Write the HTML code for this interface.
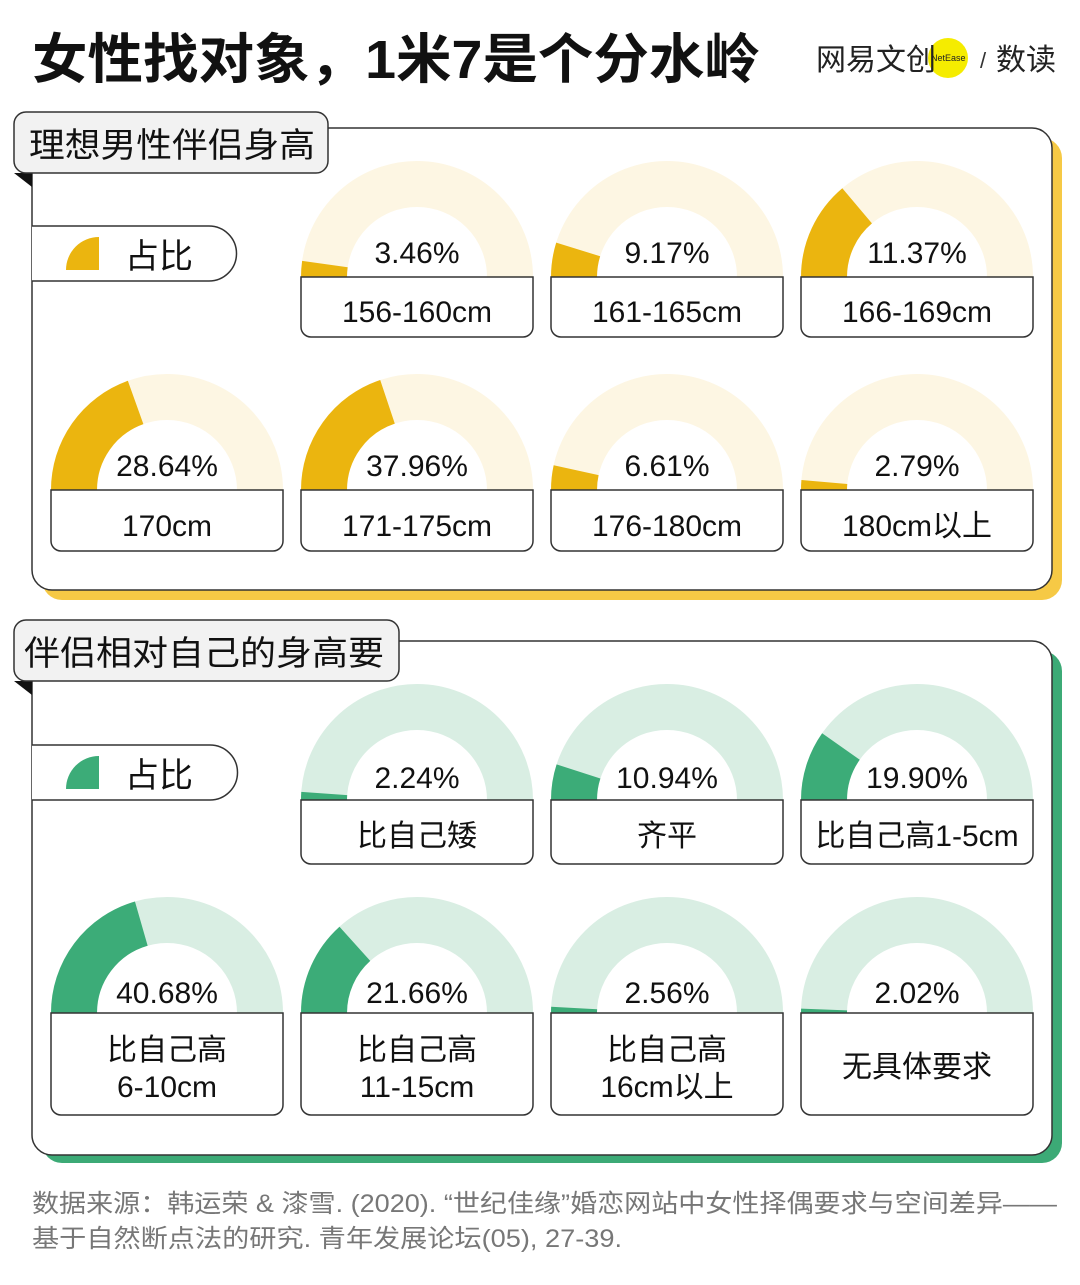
<!DOCTYPE html>
<html><head><meta charset="utf-8"><style>
body{margin:0;background:#fff;}
svg text{font-family:"Liberation Sans","Noto Sans CJK SC",sans-serif;}
</style></head><body>
<svg width="1080" height="1280" viewBox="0 0 1080 1280" xmlns="http://www.w3.org/2000/svg">
<rect width="1080" height="1280" fill="#fff"/>
<text x="32" y="78" font-size="54" font-weight="bold" fill="#111" textLength="728" lengthAdjust="spacingAndGlyphs">女性找对象，1米7是个分水岭</text>
<!-- logo -->
<circle cx="948" cy="58" r="20" fill="#f5ec00"/>
<text x="816" y="70" font-size="30" fill="#222">网易文创</text>
<text x="931" y="61" font-size="9" fill="#222">NetEase</text>
<text x="980" y="68" font-size="22" fill="#333">/</text>
<text x="996" y="70" font-size="30" fill="#222">数读</text>

<!-- panel 1 -->
<rect x="42" y="138" width="1020" height="462" rx="20" fill="#f6c945"/>
<rect x="32" y="128" width="1020" height="462" rx="20" fill="#fff" stroke="#333" stroke-width="1.5"/>
<polygon points="14,173 32,173 32,187" fill="#111"/>
<rect x="14" y="112" width="314" height="61" rx="12" fill="#f2f2f2" stroke="#333" stroke-width="1.5"/>
<text x="29" y="157" font-size="34" fill="#111" textLength="286" lengthAdjust="spacingAndGlyphs">理想男性伴侣身高</text>
<path d="M32 226 H209 A27.5 27.5 0 0 1 209 281 H32" fill="#fff" stroke="#333" stroke-width="1.5"/>
<path d="M66 270 A33 33 0 0 1 99 237 V270 Z" fill="#ebb50f"/>
<text x="125" y="268" font-size="34" fill="#111">占比</text>

<g fill="none" stroke-width="46">
<g stroke="#fdf6e3">
<path d="M324 277 A93 93 0 0 1 510 277"/>
<path d="M574 277 A93 93 0 0 1 760 277"/>
<path d="M824 277 A93 93 0 0 1 1010 277"/>
<path d="M74 490 A93 93 0 0 1 260 490"/>
<path d="M324 490 A93 93 0 0 1 510 490"/>
<path d="M574 490 A93 93 0 0 1 760 490"/>
<path d="M824 490 A93 93 0 0 1 1010 490"/>
</g>
<g stroke="#ebb50f">
<path d="M324 277 A93 93 0 0 1 510 277" stroke-dasharray="13 400"/>
<path d="M574 277 A93 93 0 0 1 760 277" stroke-dasharray="28 400"/>
<path d="M824 277 A93 93 0 0 1 1010 277" stroke-dasharray="81 400"/>
<path d="M74 490 A93 93 0 0 1 260 490" stroke-dasharray="114 400"/>
<path d="M324 490 A93 93 0 0 1 510 490" stroke-dasharray="116 400"/>
<path d="M574 490 A93 93 0 0 1 760 490" stroke-dasharray="20 400"/>
<path d="M824 490 A93 93 0 0 1 1010 490" stroke-dasharray="8 400"/>
</g>
</g>
<g font-size="30" fill="#111" text-anchor="middle">
<text x="417" y="263">3.46%</text><text x="667" y="263">9.17%</text><text x="917" y="263">11.37%</text>
<text x="167" y="476">28.64%</text><text x="417" y="476">37.96%</text><text x="667" y="476">6.61%</text><text x="917" y="476">2.79%</text>
</g>
<g fill="#fff" stroke="#333" stroke-width="1.5">
<path d="M301 277 H533 V327 A10 10 0 0 1 523 337 H311 A10 10 0 0 1 301 327 Z"/>
<path d="M551 277 H783 V327 A10 10 0 0 1 773 337 H561 A10 10 0 0 1 551 327 Z"/>
<path d="M801 277 H1033 V327 A10 10 0 0 1 1023 337 H811 A10 10 0 0 1 801 327 Z"/>
<path d="M51 490 H283 V541 A10 10 0 0 1 273 551 H61 A10 10 0 0 1 51 541 Z"/>
<path d="M301 490 H533 V541 A10 10 0 0 1 523 551 H311 A10 10 0 0 1 301 541 Z"/>
<path d="M551 490 H783 V541 A10 10 0 0 1 773 551 H561 A10 10 0 0 1 551 541 Z"/>
<path d="M801 490 H1033 V541 A10 10 0 0 1 1023 551 H811 A10 10 0 0 1 801 541 Z"/>
</g>
<g font-size="30" fill="#111" text-anchor="middle">
<text x="417" y="322">156-160cm</text><text x="667" y="322">161-165cm</text><text x="917" y="322">166-169cm</text>
<text x="167" y="536">170cm</text><text x="417" y="536">171-175cm</text><text x="667" y="536">176-180cm</text><text x="917" y="536">180cm以上</text>
</g>

<!-- panel 2 -->
<rect x="42" y="651" width="1020" height="512" rx="20" fill="#3caa76"/>
<rect x="32" y="641" width="1020" height="514" rx="20" fill="#fff" stroke="#333" stroke-width="1.5"/>
<polygon points="14,681 32,681 32,695" fill="#111"/>
<rect x="14" y="620" width="385" height="61" rx="12" fill="#f2f2f2" stroke="#333" stroke-width="1.5"/>
<text x="24" y="665" font-size="34" fill="#111" textLength="360" lengthAdjust="spacingAndGlyphs">伴侣相对自己的身高要</text>
<path d="M32 745 H210 A27.5 27.5 0 0 1 210 800 H32" fill="#fff" stroke="#333" stroke-width="1.5"/>
<path d="M66 789 A33 33 0 0 1 99 756 V789 Z" fill="#3cac78"/>
<text x="125" y="787" font-size="34" fill="#111">占比</text>

<g fill="none" stroke-width="46">
<g stroke="#d9eee3">
<path d="M324 800 A93 93 0 0 1 510 800"/>
<path d="M574 800 A93 93 0 0 1 760 800"/>
<path d="M824 800 A93 93 0 0 1 1010 800"/>
<path d="M74 1013 A93 93 0 0 1 260 1013"/>
<path d="M324 1013 A93 93 0 0 1 510 1013"/>
<path d="M574 1013 A93 93 0 0 1 760 1013"/>
<path d="M824 1013 A93 93 0 0 1 1010 1013"/>
</g>
<g stroke="#3cac78">
<path d="M324 800 A93 93 0 0 1 510 800" stroke-dasharray="6.5 400"/>
<path d="M574 800 A93 93 0 0 1 760 800" stroke-dasharray="29 400"/>
<path d="M824 800 A93 93 0 0 1 1010 800" stroke-dasharray="57 400"/>
<path d="M74 1013 A93 93 0 0 1 260 1013" stroke-dasharray="120 400"/>
<path d="M324 1013 A93 93 0 0 1 510 1013" stroke-dasharray="78 400"/>
<path d="M574 1013 A93 93 0 0 1 760 1013" stroke-dasharray="5 400"/>
<path d="M824 1013 A93 93 0 0 1 1010 1013" stroke-dasharray="3.5 400"/>
</g>
</g>
<g font-size="30" fill="#111" text-anchor="middle">
<text x="417" y="788">2.24%</text><text x="667" y="788">10.94%</text><text x="917" y="788">19.90%</text>
<text x="167" y="1003">40.68%</text><text x="417" y="1003">21.66%</text><text x="667" y="1003">2.56%</text><text x="917" y="1003">2.02%</text>
</g>
<g fill="#fff" stroke="#333" stroke-width="1.5">
<path d="M301 800 H533 V854 A10 10 0 0 1 523 864 H311 A10 10 0 0 1 301 854 Z"/>
<path d="M551 800 H783 V854 A10 10 0 0 1 773 864 H561 A10 10 0 0 1 551 854 Z"/>
<path d="M801 800 H1033 V854 A10 10 0 0 1 1023 864 H811 A10 10 0 0 1 801 854 Z"/>
<path d="M51 1013 H283 V1105 A10 10 0 0 1 273 1115 H61 A10 10 0 0 1 51 1105 Z"/>
<path d="M301 1013 H533 V1105 A10 10 0 0 1 523 1115 H311 A10 10 0 0 1 301 1105 Z"/>
<path d="M551 1013 H783 V1105 A10 10 0 0 1 773 1115 H561 A10 10 0 0 1 551 1105 Z"/>
<path d="M801 1013 H1033 V1105 A10 10 0 0 1 1023 1115 H811 A10 10 0 0 1 801 1105 Z"/>
</g>
<g font-size="30" fill="#111" text-anchor="middle">
<text x="417" y="846">比自己矮</text><text x="667" y="846">齐平</text><text x="917" y="846">比自己高1-5cm</text>
<text x="167" y="1060">比自己高</text><text x="167" y="1097">6-10cm</text>
<text x="417" y="1060">比自己高</text><text x="417" y="1097">11-15cm</text>
<text x="667" y="1060">比自己高</text><text x="667" y="1097">16cm以上</text>
<text x="917" y="1077">无具体要求</text>
</g>

<g font-size="25" fill="#777">
<text x="32" y="1212" textLength="1025" lengthAdjust="spacingAndGlyphs">数据来源：韩运荣 &amp; 漆雪. (2020). “世纪佳缘”婚恋网站中女性择偶要求与空间差异——</text>
<text x="32" y="1247" textLength="590" lengthAdjust="spacingAndGlyphs">基于自然断点法的研究. 青年发展论坛(05), 27-39.</text>
</g>
</svg>
</body></html>
